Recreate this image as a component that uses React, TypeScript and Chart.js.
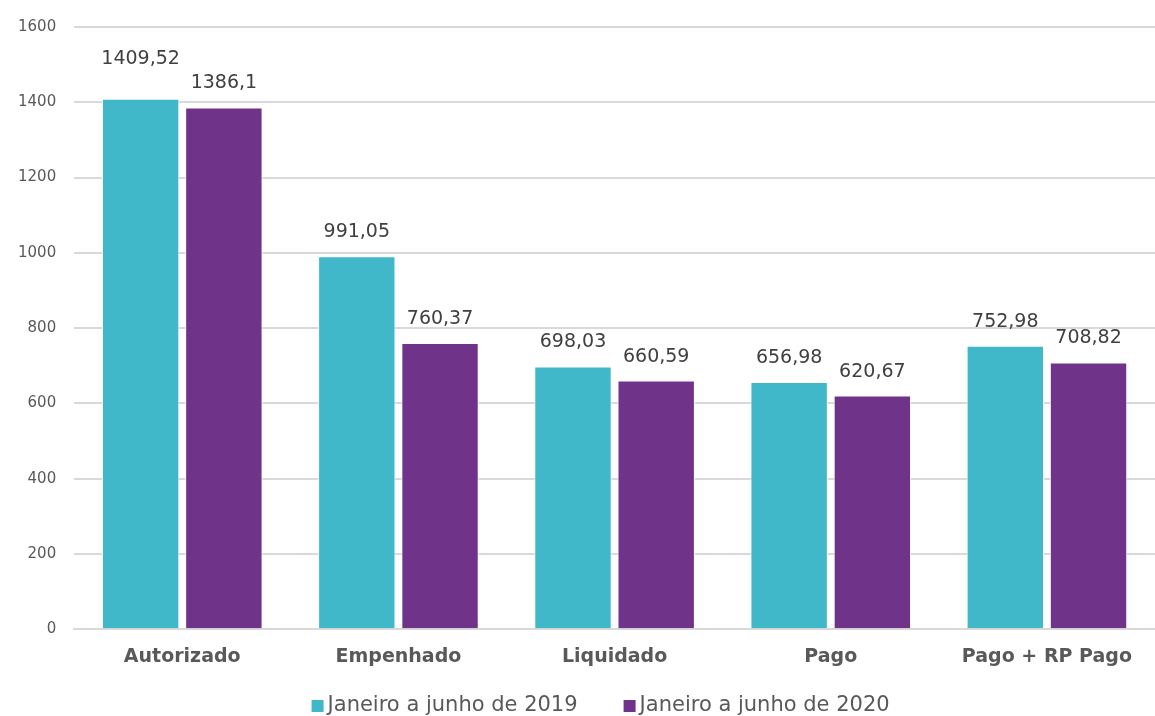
import React, { useEffect, useRef } from "react";
import { Chart, registerables } from "chart.js";

Chart.register(...registerables);

const categories = ["Autorizado", "Empenhado", "Liquidado", "Pago", "Pago + RP Pago"];
const series2019 = [1409.52, 991.05, 698.03, 656.98, 752.98];
const series2020 = [1386.1, 760.37, 660.59, 620.67, 708.82];
const seriesNames = ["Janeiro a junho de 2019", "Janeiro a junho de 2020"];
const seriesColors = ["#41B8CA", "#70338A"];
const yTicks = [0, 200, 400, 600, 800, 1000, 1200, 1400, 1600];

const FONT = "'DejaVu Sans', 'Noto Sans', sans-serif";

const dataLabels = {
  id: "dataLabels",
  afterDatasetsDraw(chart: any) {
    const ctx = chart.ctx;
    ctx.save();
    ctx.font = `19px ${FONT}`;
    ctx.fillStyle = "#404040";
    ctx.textAlign = "center";
    ctx.textBaseline = "middle";
    chart.data.datasets.forEach((ds: any, di: number) => {
      const meta = chart.getDatasetMeta(di);
      meta.data.forEach((bar: any, i: number) => {
        const v = ds.data[i];
        const txt = String(v).replace(".", ",");
        const extra = di === 0 && i === 0 ? 16 : 0;
        ctx.fillText(txt, bar.x, bar.y - 24 - extra);
      });
    });
    ctx.restore();
  },
};

const bottomLegend = {
  id: "bottomLegend",
  afterDraw(chart: any) {
    const ctx = chart.ctx;
    ctx.save();
    ctx.font = `21px ${FONT}`;
    ctx.textBaseline = "middle";
    ctx.textAlign = "left";
    const box = 12;
    const gapText = 4;
    const gapItem = 46;
    const items = chart.data.datasets.map((ds: any) => ({
      text: ds.label,
      color: ds.backgroundColor,
      w: ctx.measureText(ds.label).width,
    }));
    let total = 0;
    items.forEach((it: any, i: number) => {
      total += box + gapText + it.w + (i < items.length - 1 ? gapItem : 0);
    });
    const cx = (chart.chartArea.left + chart.chartArea.right) / 2 - 14;
    let x = cx - total / 2;
    const y = chart.height - 10;
    items.forEach((it: any) => {
      ctx.fillStyle = it.color;
      ctx.fillRect(x, y - box / 2, box, box);
      x += box + gapText;
      ctx.fillStyle = "#595959";
      ctx.fillText(it.text, x, y);
      x += it.w + gapItem;
    });
    ctx.restore();
  },
};

export default function App() {
  const ref = useRef<HTMLCanvasElement>(null);
  useEffect(() => {
    document.body.style.margin = "0";
    const chart = new Chart(ref.current!, {
      type: "bar",
      data: {
        labels: categories,
        datasets: [
          {
            label: seriesNames[0],
            data: series2019,
            backgroundColor: seriesColors[0],
            borderColor: "#FFFFFF",
            borderWidth: 1,
            categoryPercentage: 0.77,
            barPercentage: 0.93,
          },
          {
            label: seriesNames[1],
            data: series2020,
            backgroundColor: seriesColors[1],
            borderColor: "#FFFFFF",
            borderWidth: 1,
            categoryPercentage: 0.77,
            barPercentage: 0.93,
          },
        ],
      },
      options: {
        animation: false,
        responsive: true,
        maintainAspectRatio: false,
        layout: { padding: { left: 0, right: 0, top: 1, bottom: 32 } },
        plugins: {
          tooltip: { enabled: false },
          legend: { display: false },
        },
        scales: {
          x: {
            grid: { display: false, drawTicks: false },
            border: { color: "#D9D9D9", width: 2 },
            ticks: {
              color: "#595959",
              padding: 16,
              font: { family: FONT, size: 19, weight: "bold" },
            },
          },
          y: {
            min: 0,
            max: 1600,
            afterBuildTicks: (axis: any) => {
              axis.ticks = yTicks.map((v) => ({ value: v }));
            },
            grid: { color: "#D9D9D9", lineWidth: 2, drawTicks: false },
            border: { display: false },
            ticks: {
              color: "#595959",
              padding: 18,
              font: { family: FONT, size: 15 },
              callback: (v: any) => String(v),
            },
          },
        },
      },
      plugins: [dataLabels, bottomLegend],
    });
    return () => chart.destroy();
  }, []);
  return (
    <div style={{ position: "absolute", left: 0, top: 0, width: 1155, height: 716 }}>
      <canvas ref={ref} />
    </div>
  );
}
